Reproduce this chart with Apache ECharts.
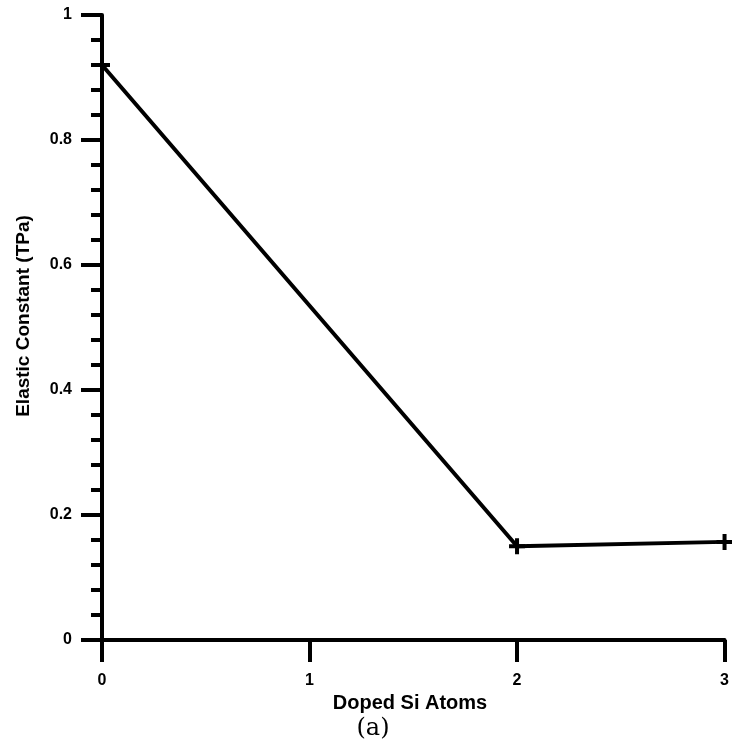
<!DOCTYPE html>
<html>
<head>
<meta charset="utf-8">
<script src="https://cdn.jsdelivr.net/npm/echarts@6/dist/echarts.min.js"></script>
<style>html,body{margin:0;padding:0;background:#fff;}#c{width:732px;height:754px;}</style>
</head>
<body>
<div id="c"></div>
<script>
const xValues = [0, 2, 3];
const yValues = [0.92, 0.15, 0.157];
const xTicks = ['0', '1', '2', '3'];
const yTicks = ['0', '0.2', '0.4', '0.6', '0.8', '1'];

const chart = echarts.init(document.getElementById('c'), null, {renderer: 'canvas'});
const plus = 'path://M6,0h4v6h6v4h-6v6h-4v-6h-6v-4h6z';
chart.setOption({
  animation: false,
  backgroundColor: '#fff',
  grid: {left: 102, right: 6, top: 15, bottom: 114, containLabel: false},
  xAxis: {
    type: 'value', min: 0, max: 3, interval: 1,
    axisLine: {lineStyle: {color: '#000', width: 4}},
    axisTick: {show: true, length: 22, lineStyle: {color: '#000', width: 4}},
    splitLine: {show: false},
    axisLabel: {margin: 33, color: '#000', fontFamily: 'Liberation Sans', fontWeight: 'bold', fontSize: 16,
      formatter: v => xTicks[Math.round(v)]},
  },
  yAxis: {
    type: 'value', min: 0, max: 1, interval: 0.2,
    axisLine: {lineStyle: {color: '#000', width: 4}},
    axisTick: {show: true, length: 21, lineStyle: {color: '#000', width: 4}},
    minorTick: {show: true, splitNumber: 5, length: 11, lineStyle: {color: '#000', width: 4}},
    splitLine: {show: false},
    axisLabel: {margin: 30, color: '#000', fontFamily: 'Liberation Sans', fontWeight: 'bold', fontSize: 16,
      formatter: v => yTicks[Math.round(v / 0.2)]},
  },
  graphic: [
    {type: 'text', x: 24, y: 316, rotation: Math.PI / 2,
      style: {text: 'Elastic Constant (TPa)', fill: '#000', font: 'bold 19px "Liberation Sans"', textAlign: 'center', textVerticalAlign: 'middle'}},
    {type: 'text', x: 410, y: 703,
      style: {text: 'Doped Si Atoms', fill: '#000', font: 'bold 20px "Liberation Sans"', textAlign: 'center', textVerticalAlign: 'middle'}},
    {type: 'text', x: 373, y: 729,
      style: {text: '(a)', fill: '#000', font: '24px "DejaVu Serif"', textAlign: 'center', textVerticalAlign: 'middle'}}
  ],
  series: [{
    type: 'line',
    data: xValues.map((x, i) => [x, yValues[i]]),
    lineStyle: {color: '#000', width: 4},
    symbol: plus, symbolSize: 16, showSymbol: true,
    itemStyle: {color: '#000'},
    clip: false
  }]
});
</script>
</body>
</html>
